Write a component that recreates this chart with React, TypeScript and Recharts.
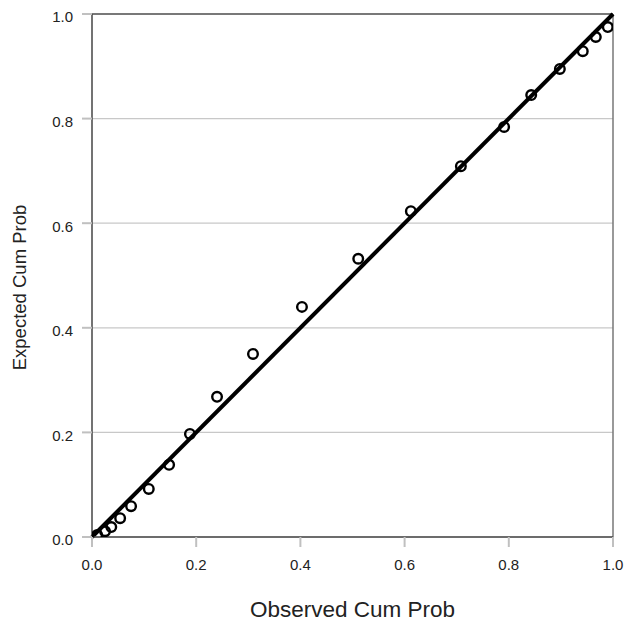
import React from 'react';
import { ScatterChart, Scatter, XAxis, YAxis, CartesianGrid, ReferenceLine, Label } from 'recharts';

const observed = [0.010, 0.025, 0.037, 0.054, 0.075, 0.109, 0.148, 0.188, 0.240, 0.309, 0.403, 0.511, 0.612, 0.708, 0.791, 0.843, 0.898, 0.942, 0.967, 0.990];
const expected = [0.004, 0.011, 0.019, 0.036, 0.059, 0.092, 0.138, 0.197, 0.268, 0.350, 0.440, 0.532, 0.623, 0.709, 0.784, 0.845, 0.895, 0.929, 0.956, 0.975];
const ticks = [0, 0.2, 0.4, 0.6, 0.8, 1.0];
const xTitle = 'Observed Cum Prob';
const yTitle = 'Expected Cum Prob';

const points = observed.map((x, i) => ({ x, y: expected[i] }));

const FONT = '"Liberation Sans", Arial, sans-serif';

const CircleShape = (props: any) => {
  const { cx, cy } = props;
  return <circle cx={cx} cy={cy} r={4.8} fill="none" stroke="#000" strokeWidth={2.4} />;
};

const YTitle = (props: any) => {
  const vb = props.viewBox || {};
  const cx = vb.x + 19;
  const cy = vb.y + vb.height / 2 + 12;
  return (
    <text x={cx} y={cy} transform={`rotate(-90 ${cx} ${cy})`} textAnchor="middle" dominantBaseline="central" fontSize={18.5} fontFamily={FONT} fill="#222">
      {yTitle}
    </text>
  );
};

const XTitle = (props: any) => {
  const vb = props.viewBox || {};
  const cx = vb.x + vb.width / 2;
  const cy = vb.y + 80;
  return (
    <text x={cx} y={cy} textAnchor="middle" fontSize={22.5} fontFamily={FONT} fill="#222">
      {xTitle}
    </text>
  );
};

export default function App() {
  return (
    <div style={{ position: 'absolute', left: 0, top: 0, background: '#fff' }}>
      <ScatterChart width={629} height={623} margin={{ top: 14, right: 16, left: 0, bottom: 0 }}>
        <CartesianGrid vertical={false} stroke="#c8c8c8" strokeWidth={1.2} />
        <XAxis
          type="number"
          dataKey="x"
          domain={[0, 1]}
          ticks={ticks}
          tickFormatter={(v: number) => v.toFixed(1)}
          height={86}
          tickSize={10}
          tickMargin={12}
          tickLine={{ stroke: '#c0c0c0', strokeWidth: 2 }}
          axisLine={{ stroke: '#444', strokeWidth: 1.5 }}
          tick={{ fontSize: 15, fontFamily: FONT, fill: '#222' }}
          allowDataOverflow
        >
          <Label content={<XTitle />} />
        </XAxis>
        <YAxis
          type="number"
          dataKey="y"
          domain={[0, 1]}
          ticks={ticks}
          tickFormatter={(v: number) => v.toFixed(1)}
          width={92}
          tickSize={10}
          tickMargin={9}
          tickLine={{ stroke: '#c0c0c0', strokeWidth: 2 }}
          axisLine={{ stroke: '#444', strokeWidth: 1.5 }}
          tick={{ fontSize: 15, fontFamily: FONT, fill: '#222', dy: 3 }}
          allowDataOverflow
        >
          <Label content={<YTitle />} />
        </YAxis>
        <ReferenceLine y={1} stroke="#555" strokeWidth={1.5} />
        <ReferenceLine x={1} stroke="#777" strokeWidth={1.5} />
        <ReferenceLine segment={[{ x: 0, y: 0 }, { x: 1, y: 1 }]} stroke="#000" strokeWidth={4} />
        <Scatter data={points} shape={<CircleShape />} isAnimationActive={false} />
      </ScatterChart>
    </div>
  );
}
